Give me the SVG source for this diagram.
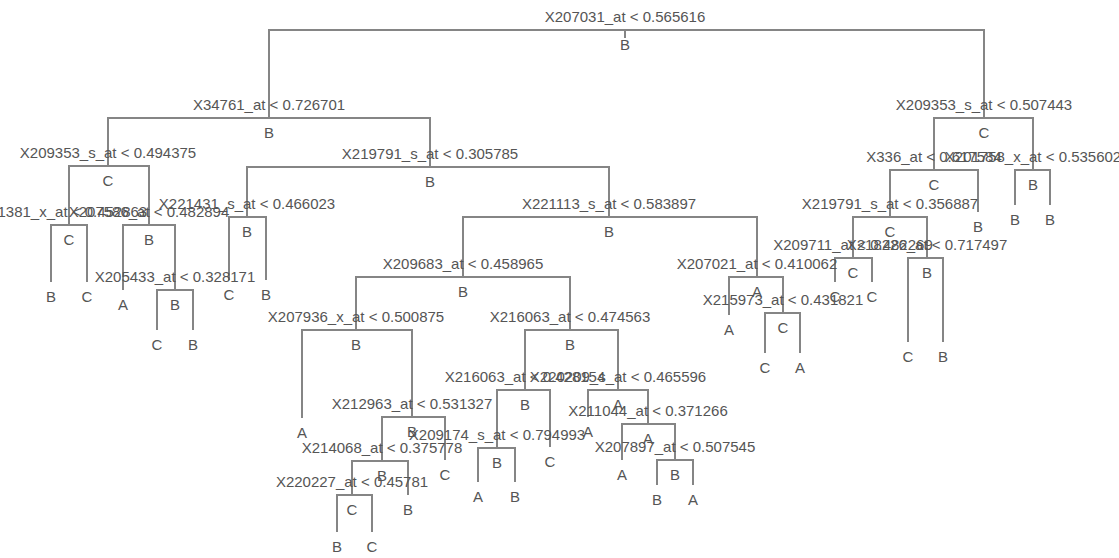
<svg xmlns="http://www.w3.org/2000/svg" width="1119" height="558" viewBox="0 0 1119 558">
<style>
text{font-family:"Liberation Sans",Arial,sans-serif;font-size:15px;fill:#555;text-anchor:middle}
.c{fill:none;stroke:#858585;stroke-width:2}
</style>
<rect width="1119" height="558" fill="#fff"/>
<g id="connectors" class="c">
<path d="M625,30 V38"/>
<path d="M269,118 V30 H984 V118"/>
<path d="M108,166 V118 H430 V167"/>
<path d="M934,170 V118 H1033 V170"/>
<path d="M69,225 V166 H149 V225"/>
<path d="M247,217 V167 H609 V217"/>
<path d="M890,217 V170 H978 V212"/>
<path d="M1015,205 V170 H1050 V205"/>
<path d="M51,282 V225 H87 V282"/>
<path d="M123,290 V225 H175 V290"/>
<path d="M229,280 V217 H266 V280"/>
<path d="M463,277 V217 H757 V277"/>
<path d="M853,258 V217 H927 V258"/>
<path d="M157,330 V290 H193 V330"/>
<path d="M356,330 V277 H570 V330"/>
<path d="M729,315 V277 H783 V313"/>
<path d="M835,282 V258 H872 V282"/>
<path d="M908,342 V258 H943 V342"/>
<path d="M302,418 V330 H412 V417"/>
<path d="M525,390 V330 H618 V390"/>
<path d="M765,353 V313 H800 V353"/>
<path d="M382,461 V417 H445 V460"/>
<path d="M497,448 V390 H550 V447"/>
<path d="M588,417 V390 H648 V424"/>
<path d="M352,495 V461 H408 V495"/>
<path d="M478,482 V448 H515 V482"/>
<path d="M622,460 V424 H675 V460"/>
<path d="M337,532 V495 H372 V532"/>
<path d="M657,485 V460 H693 V485"/>
</g>
<g id="n1"><text x="625" y="22">X207031_at &lt; 0.565616</text><text x="625" y="50">B</text></g>
<g id="n2"><text x="269" y="110">X34761_at &lt; 0.726701</text><text x="269" y="138">B</text></g>
<g id="n3"><text x="984" y="110">X209353_s_at &lt; 0.507443</text><text x="984" y="138">C</text></g>
<g id="n4"><text x="108" y="158">X209353_s_at &lt; 0.494375</text><text x="108" y="186">C</text></g>
<g id="n5"><text x="430" y="159">X219791_s_at &lt; 0.305785</text><text x="430" y="187">B</text></g>
<g id="n6"><text x="934" y="162">X336_at &lt; 0.617584</text><text x="934" y="190">C</text></g>
<g id="n7"><text x="1033" y="162">X201758_x_at &lt; 0.535602</text><text x="1033" y="190">B</text></g>
<g id="n8"><text x="59" y="217">X201381_x_at &lt; 0.452863</text><text x="69" y="245">C</text></g>
<g id="n9"><text x="149" y="217">X207586_at &lt; 0.482894</text><text x="149" y="245">B</text></g>
<g id="n10"><text x="247" y="209">X221431_s_at &lt; 0.466023</text><text x="247" y="237">B</text></g>
<g id="n11"><text x="609" y="209">X221113_s_at &lt; 0.583897</text><text x="609" y="237">B</text></g>
<g id="n12"><text x="890" y="209">X219791_s_at &lt; 0.356887</text><text x="890" y="237">C</text></g>
<g id="n18"><text x="175" y="282">X205433_at &lt; 0.328171</text><text x="175" y="310">B</text></g>
<g id="n22"><text x="463" y="269">X209683_at &lt; 0.458965</text><text x="463" y="297">B</text></g>
<g id="n23"><text x="757" y="269">X207021_at &lt; 0.410062</text><text x="757" y="297">A</text></g>
<g id="n24"><text x="853" y="250">X209711_at &lt; 0.482269</text><text x="853" y="278">C</text></g>
<g id="n25"><text x="927" y="250">X218226_at &lt; 0.717497</text><text x="927" y="278">B</text></g>
<g id="n44"><text x="356" y="322">X207936_x_at &lt; 0.500875</text><text x="356" y="350">B</text></g>
<g id="n45"><text x="570" y="322">X216063_at &lt; 0.474563</text><text x="570" y="350">B</text></g>
<g id="n47"><text x="783" y="305">X215973_at &lt; 0.431821</text><text x="783" y="333">C</text></g>
<g id="n89"><text x="412" y="409">X212963_at &lt; 0.531327</text><text x="412" y="437">B</text></g>
<g id="n90"><text x="525" y="382">X216063_at &lt; 0.428154</text><text x="525" y="410">B</text></g>
<g id="n91"><text x="618" y="382">X220209_s_at &lt; 0.465596</text><text x="618" y="410">A</text></g>
<g id="n178"><text x="382" y="453">X214068_at &lt; 0.375778</text><text x="382" y="481">B</text></g>
<g id="n180"><text x="497" y="440">X209174_s_at &lt; 0.794993</text><text x="497" y="468">B</text></g>
<g id="n183"><text x="648" y="416">X211044_at &lt; 0.371266</text><text x="648" y="444">A</text></g>
<g id="n356"><text x="352" y="487">X220227_at &lt; 0.45781</text><text x="352" y="515">C</text></g>
<g id="n367"><text x="675" y="452">X207897_at &lt; 0.507545</text><text x="675" y="480">B</text></g>
<g id="leaves">
<text x="51" y="302">B</text><text x="87" y="302">C</text>
<text x="123" y="310">A</text>
<text x="157" y="350">C</text><text x="193" y="350">B</text>
<text x="229" y="300">C</text><text x="266" y="300">B</text>
<text x="1015" y="225">B</text><text x="1050" y="225">B</text>
<text x="978" y="232">B</text>
<text x="835" y="302">C</text><text x="872" y="302">C</text>
<text x="908" y="362">C</text><text x="943" y="362">B</text>
<text x="729" y="335">A</text>
<text x="765" y="373">C</text><text x="800" y="373">A</text>
<text x="302" y="438">A</text>
<text x="445" y="480">C</text>
<text x="408" y="515">B</text>
<text x="337" y="552">B</text><text x="372" y="552">C</text>
<text x="478" y="502">A</text><text x="515" y="502">B</text>
<text x="550" y="467">C</text>
<text x="588" y="437">A</text>
<text x="622" y="480">A</text>
<text x="657" y="505">B</text><text x="693" y="505">A</text>
</g>
</svg>
